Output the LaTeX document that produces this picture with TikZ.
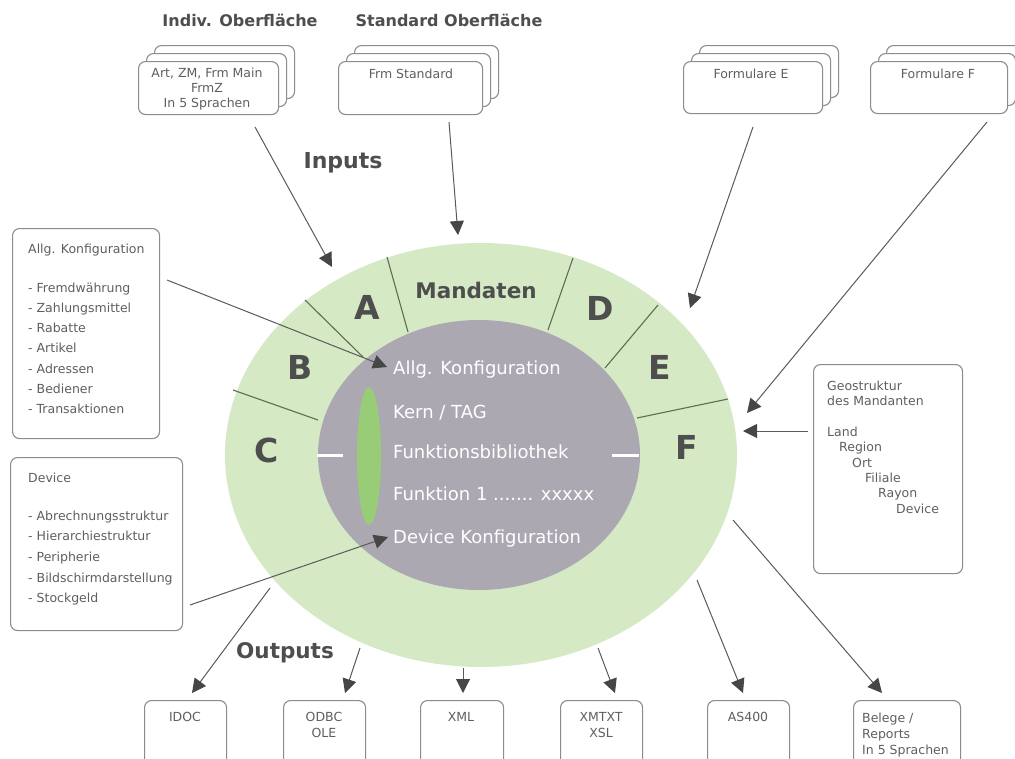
\documentclass[tikz,border=0pt]{standalone}
\usepackage{fontspec}
\setmainfont{DejaVu Sans}
\usetikzlibrary{arrows.meta,shapes.geometric}
\definecolor{ringgreen}{RGB}{213,233,197}
\definecolor{coregray}{RGB}{172,168,178}
\definecolor{leafgreen}{RGB}{152,204,118}
\definecolor{divline}{RGB}{92,110,84}
\definecolor{boxline}{RGB}{140,140,140}
\definecolor{txt}{RGB}{95,95,95}
\definecolor{dark}{RGB}{78,78,78}
\definecolor{arrowc}{RGB}{90,90,90}
\definecolor{headc}{RGB}{70,70,70}
\begin{document}
\begin{tikzpicture}[x=1pt,y=-1pt,
  box/.style={draw=boxline,line width=1.1pt,rounded corners=7pt,fill=white,inner sep=0pt,anchor=north west},
  small/.style={font=\fontsize{12.5}{15.4}\selectfont,text=txt,inner sep=0pt},
  arr/.style={draw=arrowc,line width=1pt,-{Triangle[length=14pt,width=14pt,fill=headc,color=headc]}},
  bigletter/.style={font=\fontsize{33}{33}\selectfont\bfseries,text=dark,inner sep=0pt},
  title/.style={text=dark,inner sep=0pt},
  coretext/.style={font=\fontsize{18}{18}\selectfont,text=white,anchor=west,inner sep=0pt},
  divider/.style={draw=divline,line width=1.1pt},
]
\useasboundingbox (0,0) rectangle (1015,758);
\fill[white] (0,0) rectangle (1015,758);

% ---- central ellipses ----
\node[ellipse,fill=ringgreen,minimum width=512pt,minimum height=424pt,inner sep=0pt] (ring) at (481,455) {};
\draw[divider] (305,300) -- (363,357);
\draw[divider] (387,257) -- (408,332);
\draw[divider] (573,258) -- (548,330);
\draw[divider] (658,305) -- (605,368);
\draw[divider] (728,399) -- (637,418);
\draw[divider] (233,390) -- (318,420);
\node[ellipse,fill=coregray,minimum width=322pt,minimum height=270pt,inner sep=0pt] (core) at (479,455) {};
\node[ellipse,fill=leafgreen,minimum width=24pt,minimum height=138pt,inner sep=0pt] (leaf) at (369,456) {};
\draw[white,line width=3pt] (317,455) -- (343,455);
\draw[white,line width=3pt] (612,455) -- (639,455);

\node[bigletter] (lA) at (367,307) {A};
\node[bigletter] (lB) at (300,367) {B};
\node[bigletter] (lC) at (267,450) {C};
\node[bigletter] (lD) at (600,308) {D};
\node[bigletter] (lE) at (660,367) {E};
\node[bigletter] (lF) at (687,447) {F};
\node[title,font=\fontsize{21.5}{21.5}\selectfont\bfseries] (mand) at (476,290) {Mandaten};

\node[coretext] (c1) at (393,370) {Allg. Konfiguration};
\node[coretext] (c2) at (393,413) {Kern / TAG};
\node[coretext] (c3) at (393,452) {Funktionsbibliothek};
\node[coretext] (c4) at (393,494) {Funktion 1 ....... xxxxx};
\node[coretext] (c5) at (393,539) {Device Konfiguration};

% ---- headers ----
\node[title,font=\fontsize{16}{16}\selectfont\bfseries] (hIndiv) at (240,20) {Indiv. Oberfläche};
\node[title,font=\fontsize{16}{16}\selectfont\bfseries] (hStd) at (449,20) {Standard Oberfläche};
\node[title,font=\fontsize{22}{22}\selectfont\bfseries] (inputs) at (343,163) {Inputs};
\node[title,font=\fontsize{21.5}{21.5}\selectfont\bfseries] (outputs) at (285,653) {Outputs};

% ---- top stacked boxes ----
\node[box,minimum width=140pt,minimum height=53pt] (i3) at (154,45) {};
\node[box,minimum width=140pt,minimum height=53pt] (i2) at (146,53) {};
\node[box,minimum width=140pt,minimum height=53pt] (i1) at (138,61) {};
\node[small,align=center] (ti) at (207,89) {Art, ZM, Frm Main\\FrmZ\\In 5 Sprachen};

\node[box,minimum width=144pt,minimum height=53pt] (s3) at (354,45) {};
\node[box,minimum width=144pt,minimum height=53pt] (s2) at (346,53) {};
\node[box,minimum width=144pt,minimum height=53pt] (s1) at (338,61) {};
\node[small] (ts) at (411,74) {Frm Standard};

\node[box,minimum width=139pt,minimum height=52pt] (e3) at (699,45) {};
\node[box,minimum width=139pt,minimum height=52pt] (e2) at (691,53) {};
\node[box,minimum width=139pt,minimum height=52pt] (e1) at (683,61) {};
\node[small] (te) at (751,74) {Formulare E};

\node[box,minimum width=137pt,minimum height=52pt] (f3) at (886,45) {};
\node[box,minimum width=137pt,minimum height=52pt] (f2) at (878,53) {};
\node[box,minimum width=137pt,minimum height=52pt] (f1) at (870,61) {};
\node[small] (tf) at (938,74) {Formulare F};

% ---- side boxes ----
\node[box,minimum width=147pt,minimum height=210pt] (allg) at (12,228) {};
\node[small,anchor=west] (allgT) at (28,250) {Allg. Konfiguration};
\node[small,anchor=north west,align=left,font=\fontsize{12.5}{20.3}\selectfont] (allgL) at (28,282.3)
  {- Fremdwährung\\- Zahlungsmittel\\- Rabatte\\- Artikel\\- Adressen\\- Bediener\\- Transaktionen};

\node[box,minimum width=172pt,minimum height=173pt] (dev) at (10,457) {};
\node[small,anchor=west] (devT) at (28,478) {Device};
\node[small,anchor=north west,align=left,font=\fontsize{12.5}{20.7}\selectfont] (devL) at (28,510.3)
  {- Abrechnungsstruktur\\- Hierarchiestruktur\\- Peripherie\\- Bildschirmdarstellung\\- Stockgeld};

\node[box,minimum width=149pt,minimum height=209pt] (geo) at (813,364) {};
\node[small,anchor=north west,align=left] (geoT) at (827,380.3)
  {Geostruktur\\des Mandanten\\[15.4pt]Land\\\hspace*{12pt}Region\\\hspace*{25pt}Ort\\\hspace*{38pt}Filiale\\\hspace*{51pt}Rayon\\\hspace*{69pt}Device};

% ---- bottom boxes ----
\node[box,minimum width=82pt,minimum height=80pt] (idoc) at (144,700) {};
\node[small] (tidoc) at (185,717) {IDOC};
\node[box,minimum width=82pt,minimum height=80pt] (odbc) at (283,700) {};
\node[small,align=center,font=\fontsize{12.5}{16}\selectfont] (todbc) at (324,725) {ODBC\\OLE};
\node[box,minimum width=83pt,minimum height=80pt] (xml) at (420,700) {};
\node[small] (txml) at (461,717) {XML};
\node[box,minimum width=82pt,minimum height=80pt] (xmtxt) at (560,700) {};
\node[small,align=center,font=\fontsize{12.5}{16}\selectfont] (txmtxt) at (601,725) {XMTXT\\XSL};
\node[box,minimum width=82pt,minimum height=80pt] (as) at (707,700) {};
\node[small] (tas) at (748,717) {AS400};
\node[box,minimum width=107pt,minimum height=80pt] (bel) at (853,700) {};
\node[small,anchor=north west,align=left,font=\fontsize{12.5}{16}\selectfont] (tbel) at (862,712.3) {Belege /\\Reports\\In 5 Sprachen};

% ---- connector end points ----
\coordinate (aIs) at (255,127);  \coordinate (aIe) at (332,267);
\coordinate (aSs) at (449,122);  \coordinate (aSe) at (458,235);
\coordinate (aEs) at (753,127);  \coordinate (aEe) at (690,308);
\coordinate (aFs) at (987,122);  \coordinate (aFe) at (747,413);
\coordinate (aAs) at (167,280);  \coordinate (aAe) at (387,367);
\coordinate (aDs) at (190,605);  \coordinate (aDe) at (388,537);
\coordinate (aGs) at (808,431);  \coordinate (aGe) at (743,431);
\coordinate (o1s) at (270,588);  \coordinate (o1e) at (192,693);
\coordinate (o2s) at (360,648);  \coordinate (o2e) at (345,693);
\coordinate (o3s) at (463,668);  \coordinate (o3e) at (463,693);
\coordinate (o4s) at (598,648);  \coordinate (o4e) at (615,693);
\coordinate (o5s) at (697,580);  \coordinate (o5e) at (743,693);
\coordinate (o6s) at (733,520);  \coordinate (o6e) at (882,693);

\draw[arr] (aIs) -- (aIe);
\draw[arr] (aSs) -- (aSe);
\draw[arr] (aEs) -- (aEe);
\draw[arr] (aFs) -- (aFe);
\draw[arr] (aAs) -- (aAe);
\draw[arr] (aDs) -- (aDe);
\draw[arr] (aGs) -- (aGe);
\draw[arr] (o1s) -- (o1e);
\draw[arr] (o2s) -- (o2e);
\draw[arr] (o3s) -- (o3e);
\draw[arr] (o4s) -- (o4e);
\draw[arr] (o5s) -- (o5e);
\draw[arr] (o6s) -- (o6e);
\end{tikzpicture}
\end{document}
